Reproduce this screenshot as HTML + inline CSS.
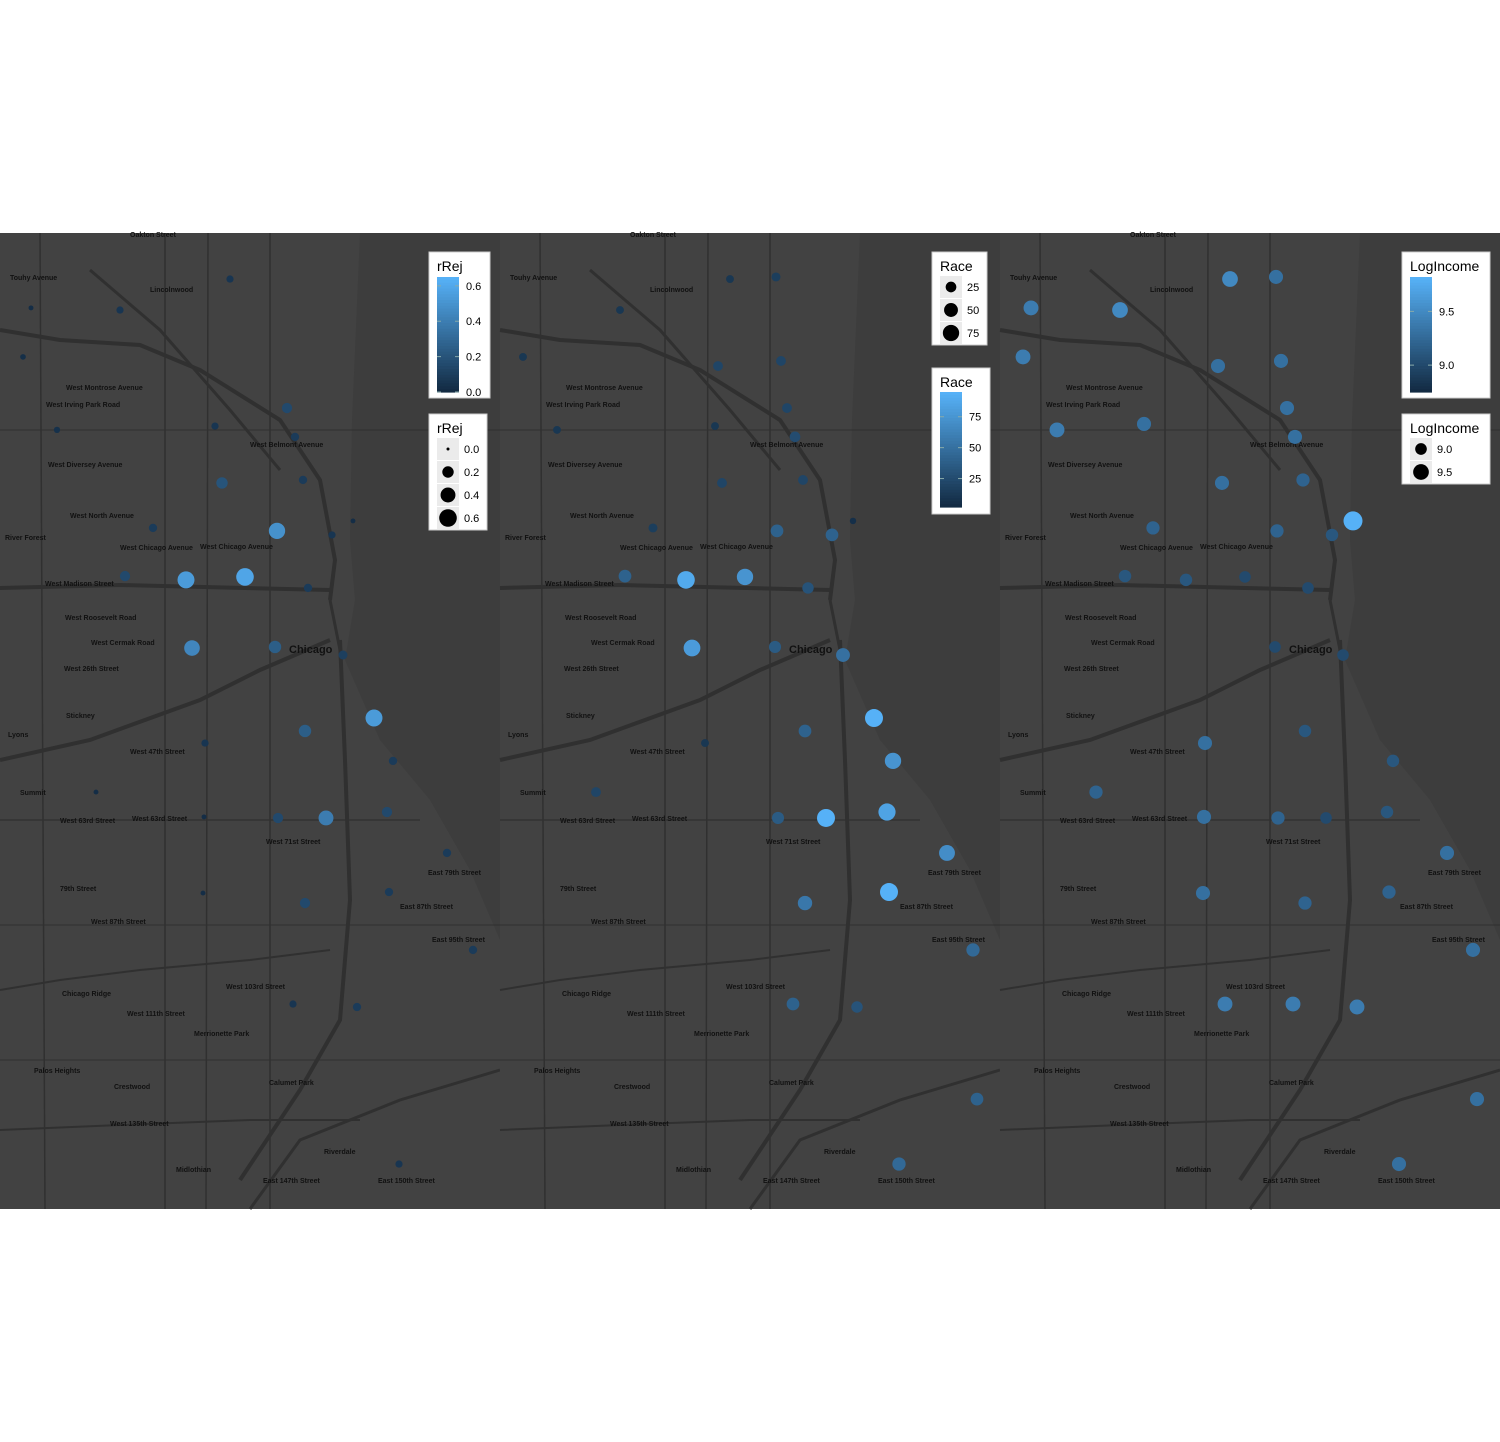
<!DOCTYPE html>
<html><head><meta charset="utf-8">
<style>
body{margin:0;background:#fff;width:1500px;height:1442px;overflow:hidden;font-family:"Liberation Sans",sans-serif;}
svg{position:absolute;left:0;top:0}
</style></head>
<body>
<svg id="chart" width="1500" height="1442" xmlns="http://www.w3.org/2000/svg"></svg>
<script>
// location data (lon/lat) and three measured variables
const lons=[-87.743,-87.842,-87.9293,-87.6917,-87.7565,-87.6845,-87.8987,-87.7502,-87.6773,-87.7007,-87.8123,-87.6512,-87.6323,-87.8375,-87.7826,-87.7295,-87.6728,-87.7772,-87.7025,-87.6413,-87.6134,-87.6755,-87.7655,-87.5963,-87.8636,-87.6998,-87.6566,-87.6017,-87.7664,-87.5477,-87.5999,-87.6755,-87.7673,-87.5243,-87.6863,-87.6287,-87.5909,-87.5207,-87.9221,-87.7016,-87.7538,-87.6971,-87.8204,-87.7475];
const lats=[42.0583,42.0437,42.0216,41.9975,41.9890,41.9839,41.9872,41.9622,41.9636,41.9396,41.9410,41.9377,41.9443,41.9183,41.9165,41.9179,41.9127,41.8844,41.8849,41.8811,41.8514,41.8453,41.8396,41.8312,41.8165,41.8043,41.8043,41.8071,41.8048,41.7878,41.7694,41.7642,41.7689,41.7421,41.7166,41.7152,41.6412,41.6718,42.0447,42.0593,42.0173,42.0197,41.9900,41.7166];
const rRej=[0.05,0.05,0.02,0.15,0.05,0.08,0.03,0.2,0.08,0.5,0.08,0.05,0.01,0.15,0.55,0.6,0.08,0.45,0.25,0.1,0.55,0.25,0.05,0.08,0.01,0.15,0.4,0.15,0.01,0.08,0.08,0.15,0.01,0.08,0.05,0.08,0.05,null,0.01,null,null,null,null,null];
const race=[10,10,10,20,10,25,10,20,20,40,15,40,5,40,90,75,30,80,35,50,95,40,10,75,20,35,95,85,null,70,95,55,null,45,40,30,45,40,null,15,20,20,null,null];
const logIncome=[9.5,9.5,9.4,9.3,null,9.3,9.4,9.3,9.2,9.2,9.2,9.1,9.9,9.1,9.1,9.0,9.0,null,9.0,9.0,null,9.1,9.3,9.1,9.2,9.2,9.0,9.1,9.3,9.3,9.2,9.2,9.3,9.3,9.4,9.4,9.3,9.3,9.4,9.3,9.3,9.3,9.3,9.4];
const rRejTicks=["0.0","0.2","0.4","0.6"], raceTicks=["25","50","75"], incTicks=["9.0","9.5"];

const NS="http://www.w3.org/2000/svg", svg=document.getElementById('chart');
function mk(t,a,p){const e=document.createElementNS(NS,t);for(const k in a)e.setAttribute(k,a[k]);(p||svg).appendChild(e);return e;}
const MAPT=233,MAPB=1209;
const xScale=lon=>(lon+87.95)/0.45*500;
const yScale=lat=>MAPT+(42.08-lat)/0.46*976;
function lerpCol(t){t=Math.max(0,Math.min(1,t));const a=[19,43,67],b=[86,177,247];
 return 'rgb('+a.map((v,i)=>Math.round(v+(b[i]-v)*t)).join(',')+')';}

const labels=[["Oakton Street",130,237],["Touhy Avenue",10,280],["Lincolnwood",150,292],["West Montrose Avenue",66,390],["West Irving Park Road",46,407],["West Belmont Avenue",250,447],["West Diversey Avenue",48,467],["West North Avenue",70,518],["River Forest",5,540],["West Chicago Avenue",120,550],["West Chicago Avenue",200,549],["West Madison Street",45,586],["West Roosevelt Road",65,620],["West Cermak Road",91,645],["West 26th Street",64,671],["Stickney",66,718],["Lyons",8,737],["West 47th Street",130,754],["Summit",20,795],["West 63rd Street",60,823],["West 63rd Street",132,821],["West 71st Street",266,844],["East 79th Street",428,875],["79th Street",60,891],["West 87th Street",91,924],["East 87th Street",400,909],["East 95th Street",432,942],["Chicago Ridge",62,996],["West 103rd Street",226,989],["West 111th Street",127,1016],["Merrionette Park",194,1036],["Palos Heights",34,1073],["Crestwood",114,1089],["Calumet Park",269,1085],["West 135th Street",110,1126],["Riverdale",324,1154],["Midlothian",176,1172],["East 147th Street",263,1183],["East 150th Street",378,1183]];

function drawMap(ox,id){
 const g=mk('g',{transform:'translate('+ox+',0)'});
 
 
 mk('rect',{x:0,y:MAPT,width:500,height:MAPB-MAPT,fill:'#424242'},g);
 mk('path',{d:'M360 233 L352 420 L350 540 L355 600 L345 660 L380 740 L430 800 L470 870 L500 940 L500 233 Z',fill:'#3d3d3d'},g);
 const roads=[['M0 330 L60 340 L140 345 L200 370 L280 420 L320 480 L335 560 L330 600',4],
  ['M0 588 L120 585 L330 590',4],['M0 760 L90 740 L200 700 L260 670 L330 640',4],
  ['M340 640 L345 760 L350 900 L340 1020 L300 1090 L240 1180',4],['M330 600 L340 650',3],
  ['M90 270 L160 330 L230 410 L280 470',3],['M0 990 L60 980 L140 970 L250 960 L330 950',2],
  ['M0 1130 L120 1125 L250 1120 L360 1120',2],['M250 1209 L300 1140 L400 1100 L500 1070',3],
  ['M40 233 L45 1209',1.5],['M165 233 L165 1209',1.5],['M208 233 L206 1209',1.5],['M270 233 L270 1209',1.5],
  ['M0 430 L500 430',1],['M0 820 L420 820',1.2],['M0 925 L500 925',1],['M0 1060 L500 1060',1]];
 roads.forEach(r=>mk('path',{d:r[0],stroke:'#303030','stroke-width':r[1],fill:'none'},g));
 labels.forEach(l=>{const t=mk('text',{x:l[1],y:l[2],'font-size':7,fill:'#111','font-weight':'bold'},g);t.textContent=l[0];});
 const c=mk('text',{x:289,y:653,'font-size':11,'font-weight':'bold',fill:'#111'},g);c.textContent='Chicago';
 return g;
}
function drawPoints(ox,vals,rFn,cFn,name){
 vals.forEach((v,i)=>{if(v===null)return;
  const c=mk('circle',{cx:ox+xScale(lons[i]),cy:yScale(lats[i]),r:rFn(v),fill:cFn(v)});
  
  
 });
}
function box(x,y,w,h,name){const r=mk('rect',{x:x,y:y,width:w,height:h,fill:'#fff',stroke:'#ccc'});}
function txt(x,y,s,size){const t=mk('text',{x:x,y:y,'font-size':size||11,fill:'#000'});t.textContent=s;return t;}
function colorbar(x,y,w,title,ticks,tickVal,min,max,barTop,barBot){
 box(x,y,w,146,title.toLowerCase()+'-colorbar-legend');
 txt(x+8,y+19,title,14);
 const bx=x+8,bw=22;
 for(let k=0;k<40;k++){const t=1-k/39;mk('rect',{x:bx,y:barTop+k*(barBot-barTop)/40,width:bw,height:(barBot-barTop)/40+0.6,fill:lerpCol(t)});}
 ticks.forEach((s,i)=>{const v=tickVal[i];const yy=barBot-(v-min)/(max-min)*(barBot-barTop);
  mk('line',{x1:bx,x2:bx+4,y1:yy,y2:yy,stroke:'#8aa',"stroke-width":1});mk('line',{x1:bx+bw-4,x2:bx+bw,y1:yy,y2:yy,stroke:'#8aa'});
  txt(bx+bw+7,yy+4,s,11);});
}
function sizeLegend(x,y,w,title,ticks,rFn,name){
 box(x,y,w,24+ticks.length*23,name);
 txt(x+8,y+19,title,14);
 ticks.forEach((s,i)=>{const cy=y+35+i*23;mk('rect',{x:x+8,y:cy-11,width:22,height:22,fill:'#ebebeb'});
  mk('circle',{cx:x+19,cy:cy,r:rFn(parseFloat(s)),fill:'#000'});txt(x+35,cy+4,s,11);});
}

drawMap(0,'rrej');drawMap(500,'race');drawMap(1000,'logincome');
const rR=v=>1.5+Math.sqrt(v/0.6)*7.3, cR=v=>lerpCol(v/0.66);
const rA=v=>1.5+Math.sqrt(v/95)*7.5, cA=v=>lerpCol((v-2)/93);
const rI=v=>5+(v-8.8)/1.1*4.5, cI=v=>lerpCol((v-8.75)/1.07);
drawPoints(0,rRej,rR,cR,'rrej');
drawPoints(500,race,rA,cA,'race');
drawPoints(1000,logIncome,rI,cI,'logincome');

colorbar(429,252,61,'rRej',rRejTicks,rRejTicks.map(Number),0,0.65,277,392);
sizeLegend(429,414,58,'rRej',rRejTicks,rR,'rrej-size-legend');
sizeLegend(932,252,55,'Race',raceTicks,rA,'race-size-legend');
colorbar(932,368,58,'Race',raceTicks,raceTicks.map(Number),2,95,392,507);
colorbar(1402,252,88,'LogIncome',incTicks,incTicks.map(Number),8.75,9.82,277,392);
sizeLegend(1402,414,88,'LogIncome',incTicks,rI,'logincome-size-legend');
</script>
</body></html>
